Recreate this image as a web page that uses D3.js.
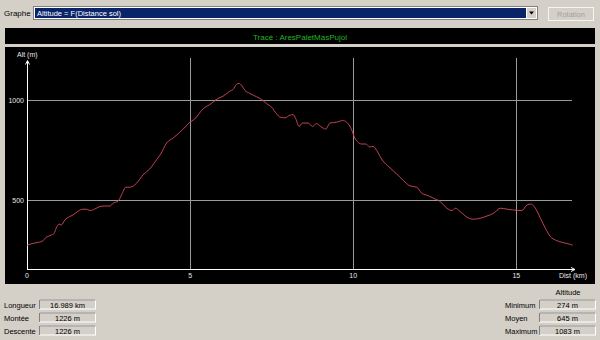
<!DOCTYPE html>
<html>
<head>
<meta charset="utf-8">
<script src="https://cdn.jsdelivr.net/npm/d3@7"></script>
<style>
  body { margin: 0; background: #d4d0c8; }
  svg { display: block; font-family: "Liberation Sans", Arial, sans-serif; }
</style>
</head>
<body>
<script>
// profile: distance (km) / altitude (m)
var distKm = [0, 0.18, 0.34, 0.49, 0.57, 0.75, 0.83, 0.90, 0.98, 1.05, 1.16, 1.31, 1.41, 1.57, 1.72, 1.82, 1.94, 2.08, 2.23, 2.38,
  2.54, 2.64, 2.79, 2.90, 3.03, 3.15, 3.36, 3.56, 3.76, 3.97, 4.10, 4.28, 4.48, 4.79, 4.97, 5.14, 5.40, 5.60, 5.86, 6.01,
  6.22, 6.32, 6.42, 6.50, 6.58, 6.68, 6.83, 7.04, 7.19, 7.35, 7.50, 7.65, 7.76, 7.91, 8.06, 8.16, 8.24, 8.34, 8.45, 8.62,
  8.75, 8.88, 9.00, 9.16, 9.29, 9.49, 9.68, 9.80, 9.95, 10.05, 10.26, 10.39, 10.51, 10.61, 10.72, 10.87, 11.13, 11.33, 11.54, 11.74,
  11.95, 12.10, 12.31, 12.46, 12.67, 12.87, 13.03, 13.13, 13.28, 13.49, 13.69, 13.90, 14.10, 14.31, 14.51, 14.72, 14.92, 15.17, 15.33, 15.45,
  15.55, 15.74, 15.89, 16.05, 16.20, 16.46, 16.66, 16.73];
var altM = [274, 283, 288, 296, 311, 325, 333, 361, 380, 375, 400, 417, 425, 445, 454, 454, 447, 455, 467, 470,
  470, 484, 494, 526, 564, 564, 584, 626, 655, 701, 730, 785, 810, 855, 885, 905, 956, 977, 1008, 1019,
  1044, 1053, 1078, 1083, 1073, 1048, 1033, 1016, 1003, 981, 964, 931, 914, 911, 924, 927, 906, 868, 885, 885,
  868, 882, 868, 855, 885, 889, 897, 889, 852, 810, 780, 780, 765, 768, 748, 705, 660, 631, 597, 571,
  564, 534, 521, 509, 492, 459, 447, 459, 442, 414, 404, 409, 420, 434, 459, 454, 450, 447, 475, 480,
  467, 409, 359, 316, 300, 286, 278, 274];

var xTicks = [0, 5, 10, 15];
var yTicks = [500, 1000];

var title = "Tracé : AresPaletMasPujol";
var graphChoice = "Altitude = F(Distance sol)";
var leftLabels = ["Longueur", "Montée", "Descente"];
var leftValues = ["16.989 km", "1226 m", "1226 m"];
var rightLabels = ["Minimum", "Moyen", "Maximum"];
var rightValues = ["274 m", "645 m", "1083 m"];

var W = 600, H = 340;
var svg = d3.select("body").append("svg")
    .attr("width", W)
    .attr("height", H);

svg.append("rect").attr("width", W).attr("height", H).attr("fill", "#d4d0c8");

// top bar: combo + button
svg.append("text").attr("x", 4).attr("y", 16).attr("font-size", 8).attr("fill", "#000").text("Graphe");
svg.append("rect").attr("x", 33.5).attr("y", 6.5).attr("width", 504).attr("height", 13)
    .attr("fill", "#fff").attr("stroke", "#808080");
svg.append("rect").attr("x", 35).attr("y", 8).attr("width", 491).attr("height", 10).attr("fill", "#0a246a");
svg.append("text").attr("x", 37).attr("y", 16).attr("font-size", 7.5).attr("fill", "#fff").text(graphChoice);
svg.append("rect").attr("x", 526.5).attr("y", 7.5).attr("width", 10).attr("height", 11)
    .attr("fill", "#d4d0c8").attr("stroke", "#fff");
svg.append("path").attr("d", "M529,11.5h5l-2.5,3z").attr("fill", "#000");
svg.append("rect").attr("x", 548.5).attr("y", 7.5).attr("width", 45).attr("height", 13)
    .attr("fill", "#d4d0c8").attr("stroke", "#f4f4f4");
svg.append("text").attr("x", 571).attr("y", 17).attr("font-size", 7.5).attr("text-anchor", "middle")
    .attr("fill", "#a0a0a0").text("Rotation");

// title band
svg.append("rect").attr("x", 5).attr("y", 28).attr("width", 590).attr("height", 16).attr("fill", "#000");
svg.append("text").attr("x", 300).attr("y", 39.5).attr("font-size", 8).attr("text-anchor", "middle")
    .attr("fill", "#22b422").text(title);

// chart panel
svg.append("rect").attr("x", 5).attr("y", 47).attr("width", 590).attr("height", 237).attr("fill", "#000");

var x = d3.scaleLinear().domain([0, 16.8]).range([27, 575]);
var y = d3.scaleLinear().domain([150, 1200]).range([270, 60]);

var g = svg.append("g");

// grid
g.selectAll(".vg").data(xTicks.filter(function(d) { return d > 0; })).enter().append("line")
    .attr("x1", function(d) { return Math.round(x(d)) + 0.5; })
    .attr("x2", function(d) { return Math.round(x(d)) + 0.5; })
    .attr("y1", 58).attr("y2", 270)
    .attr("stroke", "#9a9a9a").attr("stroke-width", 1);
g.selectAll(".hg").data(yTicks).enter().append("line")
    .attr("x1", 27).attr("x2", 572)
    .attr("y1", function(d) { return Math.round(y(d)) + 0.5; })
    .attr("y2", function(d) { return Math.round(y(d)) + 0.5; })
    .attr("stroke", "#9a9a9a").attr("stroke-width", 1);

// axes
g.append("line").attr("x1", 27.5).attr("x2", 27.5).attr("y1", 61).attr("y2", 270)
    .attr("stroke", "#fff").attr("stroke-width", 1);
g.append("path").attr("d", "M25.5,64.5L27.5,60.5L29.5,64.5").attr("fill", "none").attr("stroke", "#fff");
g.append("line").attr("x1", 27).attr("x2", 575).attr("y1", 269.5).attr("y2", 269.5)
    .attr("stroke", "#fff").attr("stroke-width", 1);
g.append("path").attr("d", "M571,267.5L575,269.5L571,271.5").attr("fill", "none").attr("stroke", "#fff");

g.selectAll(".xt").data(xTicks).enter().append("text")
    .attr("x", function(d) { return x(d); })
    .attr("y", 278)
    .attr("font-size", 7)
    .attr("text-anchor", "middle")
    .attr("fill", "#e8e8e8")
    .text(function(d) { return d; });
g.append("text").attr("x", 573).attr("y", 278).attr("font-size", 7).attr("text-anchor", "middle")
    .attr("fill", "#e8e8e8").text("Dist (km)");

g.selectAll(".yt").data(yTicks).enter().append("text")
    .attr("x", 24)
    .attr("y", function(d) { return y(d) + 2.5; })
    .attr("font-size", 7)
    .attr("text-anchor", "end")
    .attr("fill", "#e8e8e8")
    .text(function(d) { return d; });
g.append("text").attr("x", 17).attr("y", 56.5).attr("font-size", 7).attr("fill", "#e8e8e8").text("Alt (m)");

// profile line
var pts = distKm.map(function(d, i) { return {d: d, a: altM[i]}; });
var line = d3.line()
    .x(function(p) { return x(p.d); })
    .y(function(p) { return y(p.a); })
    .curve(d3.curveMonotoneX);
g.append("path")
    .datum(pts)
    .attr("fill", "none")
    .attr("stroke", "#d8485f")
    .attr("stroke-width", 0.9)
    .attr("d", line);

// stats boxes
function box(bx, by, txt) {
  svg.append("rect").attr("x", bx + 0.5).attr("y", by + 0.5).attr("width", 56).attr("height", 9)
      .attr("fill", "#d4d0c8").attr("stroke", "#fff");
  svg.append("line").attr("x1", bx + 0.5).attr("x2", bx + 56.5).attr("y1", by + 0.5).attr("y2", by + 0.5)
      .attr("stroke", "#808080");
  svg.append("line").attr("x1", bx + 0.5).attr("x2", bx + 0.5).attr("y1", by + 0.5).attr("y2", by + 9.5)
      .attr("stroke", "#808080");
  svg.append("text").attr("x", bx + 28.5).attr("y", by + 8).attr("font-size", 7.5).attr("text-anchor", "middle")
      .attr("fill", "#000").text(txt);
}

leftLabels.forEach(function(l, i) {
  var by = 299.5 + i * 13;
  svg.append("text").attr("x", 4).attr("y", by + 8).attr("font-size", 7.5).attr("fill", "#000").text(l);
  box(39, by, leftValues[i]);
});

svg.append("text").attr("x", 568).attr("y", 294.5).attr("font-size", 7.5).attr("text-anchor", "middle")
    .attr("fill", "#000").text("Altitude");
rightLabels.forEach(function(l, i) {
  var by = 299.5 + i * 13;
  svg.append("text").attr("x", 505).attr("y", by + 8).attr("font-size", 7.5).attr("fill", "#000").text(l);
  box(539, by, rightValues[i]);
});
</script>
</body>
</html>
